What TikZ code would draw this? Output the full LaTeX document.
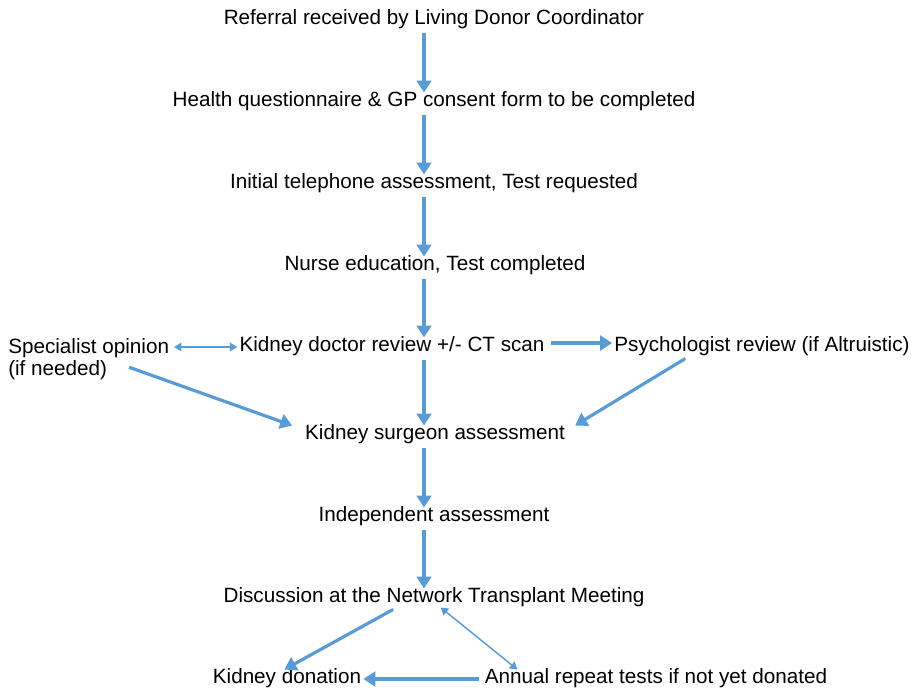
\documentclass[tikz,border=0pt]{standalone}
\usepackage{fontspec}
\setmainfont{Liberation Sans}
\usepackage{xcolor}
\usetikzlibrary{arrows.meta, positioning, calc}

\definecolor{flowblue}{HTML}{5B9BD5}

\tikzset{
  stage/.style={inner sep=1.5pt, font=\fontsize{15.5}{16.5}\selectfont, text height=1.6ex, text depth=.45ex},
  flow/.style={draw=flowblue, line width=2.4pt, -{Triangle[width=11pt,length=9pt]}, shorten <=3pt},
  link/.style={draw=flowblue, line width=1.1pt, {Triangle[width=6.5pt,length=5.5pt]}-{Triangle[width=6.5pt,length=5.5pt]}}
}

\begin{document}
\begin{tikzpicture}[x=0.75pt, y=-0.75pt]
\useasboundingbox (0,0) rectangle (924,690);

% main column
\coordinate (spine) at (424,0);
\node [stage] (ref)   at (434,20)  {Referral received by Living Donor Coordinator};
\node [stage] (quest) at (434,102) {Health questionnaire \& GP consent form to be completed};
\node [stage] (phone) at (434,184) {Initial telephone assessment, Test requested};
\node [stage] (nurse) at (435,266) {Nurse education, Test completed};
\node [stage] (kdoc)  at (392,347) {Kidney doctor review +/- CT scan};
\node [stage, align=left, anchor=north west, text height=, text depth=] (spec) at (6,336) {Specialist opinion\\(if needed)};
\node [stage] (psych) at (762,347) {Psychologist review (if Altruistic)};
\node [stage] (surg)  at (435,435) {Kidney surgeon assessment};
\node [stage] (indep) at (434,517) {Independent assessment};
\node [stage] (disc)  at (434,598) {Discussion at the Network Transplant Meeting};
\node [stage] (don)   at (287,679) {Kidney donation};
\node [stage] (ann)   at (656,679) {Annual repeat tests if not yet donated};

% arrows down the middle
\draw [flow] (ref.south -| spine) -- (quest.north -| spine);
\draw [flow] (quest.south -| spine) -- (phone.north -| spine);
\draw [flow] (phone.south -| spine) -- (nurse.north -| spine);
\draw [flow] (nurse.south -| spine) -- (kdoc.north -| spine);
\draw [flow] (kdoc.south -| spine) -- (surg.north -| spine);
\draw [flow] (surg.south -| spine) -- (indep.north -| spine);
\draw [flow] (indep.south -| spine) -- (disc.north -| spine);

% side branches
\draw [link, shorten <=2pt] (spec.east |- kdoc.west) -- (kdoc.west);
\draw [flow] ([yshift=3]kdoc.east) -- ([yshift=3]psych.west);
\draw [flow] ($(spec.east)+(-46,7)$) -- ([xshift=-8]surg.north west);
\draw [flow] ([xshift=-55]psych.south) -- ([xshift=6]surg.north east);

% outcome
\draw [flow] ([xshift=-28]disc.south) -- ([xshift=-2]don.north);
\draw [link] ([xshift=5]disc.south) -- ([xshift=-104]ann.north);
\draw [flow] (ann.west) -- (don.east);
\end{tikzpicture}
\end{document}
